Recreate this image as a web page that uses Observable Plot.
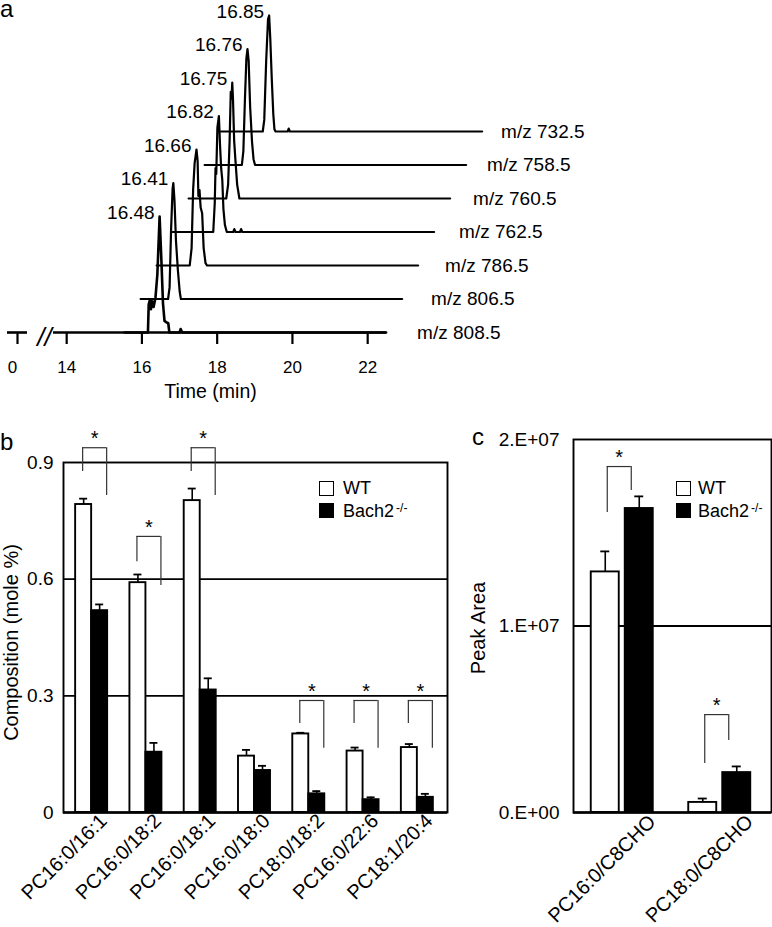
<!DOCTYPE html>
<html>
<head>
<meta charset="utf-8">
<script src="https://cdn.jsdelivr.net/npm/d3@7"></script>
<script src="https://cdn.jsdelivr.net/npm/@observablehq/plot@0.6"></script>
<style>
  body { margin: 0; background: #fff; }
  #fig { position: relative; width: 772px; height: 927px; overflow: hidden; background: #fff;
         font-family: "Liberation Sans", Arial, Helvetica, sans-serif; color: #000; }
  #fig svg { position: absolute; left: 0; top: 0; }
  .panel-letter { position: absolute; font-size: 24px; line-height: 24px; }
  .leg { position: absolute; font-size: 18px; line-height: 18px; white-space: nowrap; }
  .leg sup { font-size: 12px; position: relative; top: -3px; margin-left: 2px; vertical-align: top; }
  .box { position: absolute; width: 13px; height: 13px; border: 1.5px solid #000; }
</style>
</head>
<body>
<div id="fig"></div>
<script>
// ---------------- Panel a : chromatograms (time in min, relative intensity) ----------------
const mzLabels   = ["m/z 808.5", "m/z 806.5", "m/z 786.5", "m/z 762.5", "m/z 760.5", "m/z 758.5", "m/z 732.5"];
const peakLabels = ["16.48", "16.41", "16.66", "16.82", "16.75", "16.76", "16.85"];
const timeTicks  = [14, 16, 18, 20, 22];
const zeroTick   = [0];

const trace808 = [[15.54,0],[16.16,0],[16.18,0.24],[16.21,0.28],[16.24,0.2],[16.27,0.27],[16.31,0.22],[16.36,0.3],[16.41,0.5],[16.47,1.0],[16.52,0.6],[16.56,0.25],[16.6,0.1],[16.64,0.09],[16.7,0.08],[16.73,0],[17.0,0],[17.03,0.03],[17.07,0],[22.49,0]];
const trace806 = [[15.54,0],[16.27,0],[16.31,0.1],[16.35,0.6],[16.39,0.95],[16.41,1.0],[16.44,0.85],[16.48,0.5],[16.53,0.25],[16.58,0.06],[16.61,0],[22.49,0]];
const trace786 = [[15.54,0],[16.42,0],[16.47,0.15],[16.51,0.65],[16.55,0.88],[16.6,1.0],[16.63,0.9],[16.65,0.6],[16.68,0.65],[16.71,0.5],[16.75,0.45],[16.79,0.15],[16.84,0.02],[16.88,0],[22.49,0]];
const trace762 = [[15.54,0],[16.62,0],[16.66,0.25],[16.68,0.55],[16.7,0.5],[16.73,0.9],[16.77,1.0],[16.8,0.75],[16.83,0.55],[16.86,0.45],[16.89,0.2],[16.93,0.06],[16.98,0],[17.15,0],[17.18,0.025],[17.21,0],[17.33,0],[17.36,0.025],[17.39,0],[22.49,0]];
const trace760 = [[15.54,0],[16.54,0],[16.59,0.12],[16.63,0.5],[16.66,0.92],[16.68,0.86],[16.7,1.0],[16.72,0.85],[16.75,0.5],[16.78,0.35],[16.83,0.12],[16.89,0],[22.49,0]];
const trace758 = [[15.54,0],[16.53,0],[16.57,0.12],[16.61,0.55],[16.65,0.92],[16.68,1.0],[16.71,0.9],[16.75,0.5],[16.8,0.2],[16.84,0.05],[16.88,0],[22.49,0]];
const trace732 = [[15.54,0],[16.66,0],[16.7,0.1],[16.75,0.6],[16.8,0.97],[16.83,1.0],[16.86,0.8],[16.9,0.45],[16.94,0.15],[16.97,0.02],[17.0,0],[17.32,0],[17.35,0.025],[17.38,0],[22.49,0]];

// ---------------- Panel b : composition (mole %) ----------------
const lipidsB  = ["PC16:0/16:1", "PC16:0/18:2", "PC16:0/18:1", "PC16:0/18:0", "PC18:0/18:2", "PC16:0/22:6", "PC18:1/20:4"];
const wtB      = [0.792, 0.591, 0.802, 0.145, 0.202, 0.158, 0.167];
const wtSemB   = [0.015, 0.021, 0.031, 0.016, 0.003, 0.009, 0.009];
const koB      = [0.519, 0.155, 0.315, 0.108, 0.048, 0.033, 0.039];
const koSemB   = [0.016, 0.024, 0.030, 0.012, 0.007, 0.006, 0.009];
const sigB     = ["PC16:0/16:1", "PC16:0/18:2", "PC16:0/18:1", "PC18:0/18:2", "PC16:0/22:6", "PC18:1/20:4"];
const sigTopB  = [0.938, 0.710, 0.938, 0.288, 0.288, 0.288];
const sigWtB   = [0.877, 0.645, 0.877, 0.229, 0.229, 0.229];
const sigKoB   = [0.815, 0.584, 0.815, 0.165, 0.165, 0.165];
const yTicksB  = [0, 0.3, 0.6, 0.9];
const yLabelsB = ["0", "0.3", "0.6", "0.9"];

// ---------------- Panel c : peak area ----------------
const lipidsC  = ["PC16:0/C8CHO", "PC18:0/C8CHO"];
const wtC      = [1.29e7, 0.054e7];
const wtSemC   = [0.11e7, 0.021e7];
const koC      = [1.63e7, 0.214e7];
const koSemC   = [0.065e7, 0.033e7];
const sigC     = ["PC16:0/C8CHO", "PC18:0/C8CHO"];
const sigTopC  = [1.855e7, 0.525e7];
const sigWtC   = [1.609e7, 0.263e7];
const sigKoC   = [1.727e7, 0.386e7];
const yTicksC  = [0, 1e7, 2e7];
const yLabelsC = ["0.E+00", "1.E+07", "2.E+07"];

const groupNames = ["WT", "Bach2"];

// ------------------------------------------------------------------
const fig = document.getElementById("fig");
const FONT = '"Liberation Sans", Arial, Helvetica, sans-serif';
const svgStyle = {background: "transparent", fontFamily: FONT, color: "black", overflow: "visible"};

// ---- panel a ----
(function () {
  const traces = [trace808, trace806, trace786, trace762, trace760, trace758, trace732];
  const stepX = 16, stepY = 33.5, labelStepX = 14;
  const marks = [
    Plot.ruleY([0], {strokeWidth: 2.6}),
    Plot.ruleY(zeroTick, {x1: d => d - 1, x2: d => d + 1, y: () => 0, strokeWidth: 2.6}),
    Plot.axisX({ticks: timeTicks, tickSize: 12, tickPadding: 16, fontSize: 17, strokeWidth: 2.2, label: null}),
    Plot.axisX({ticks: zeroTick, tickSize: 12, text: null, strokeWidth: 2.2, label: null}),
    Plot.axisX({ticks: zeroTick, tickSize: 0, tickPadding: 28, fontSize: 17, dx: -5, label: null}),
    Plot.text(["//"], {text: d => d, frameAnchor: "bottom-left", textAnchor: "middle", lineAnchor: "middle",
      dx: -9, dy: 5, fontSize: 26, fontStyle: "italic", letterSpacing: 1}),
    Plot.text(["Time (min)"], {text: d => d, frameAnchor: "bottom", lineAnchor: "middle", dx: -9.5, dy: 59, fontSize: 19.5})
  ];
  traces.forEach((tr, k) => {
    const rows = tr.map(([t, v]) => ({t, v}));
    marks.push(Plot.line(rows, {x: "t", y: "v", dx: stepX * k, dy: -stepY * k,
      strokeWidth: k === 0 ? 2.6 : 2.2, strokeLinejoin: "round"}));
    marks.push(Plot.text(rows, Plot.selectMaxY({x: "t", y: "v", text: () => peakLabels[k],
      dx: stepX * k - 5, dy: -stepY * k - 4, textAnchor: "end", fontSize: 19})));
    marks.push(Plot.text(rows, Plot.selectLast({x: "t", y: "v", text: () => mzLabels[k],
      dx: labelStepX * k + 31, dy: -stepY * k, textAnchor: "start", fontSize: 19})));
  });
  const p = Plot.plot({
    width: 772, height: 400,
    marginLeft: 53, marginRight: 386, marginTop: 10, marginBottom: 68,
    style: svgStyle,
    x: {type: "linear", domain: [-1, 1, 13.65, 22.5], range: [7, 27, 53, 386]},
    y: {domain: [0, 1], range: [332, 216], axis: null},
    marks
  });
  fig.appendChild(p);
})();

// ---- grouped bar panels (b, c) ----
function groupedPanel(o) {
  const rows = o.cats.map((c, i) => ({c, wt: o.wt[i], wtSem: o.wtSem[i], ko: o.ko[i], koSem: o.koSem[i]}));
  const sig = o.sigCats.map((c, i) => ({c, top: o.sigTop[i], wtEnd: o.sigWt[i], koEnd: o.sigKo[i]}));
  const bw = (o.xRange[1] - o.xRange[0]) / o.cats.length;
  const h = bw / 2;
  const wtCenter = -(o.gap / 2 + o.barW / 2), koCenter = o.gap / 2 + o.barW / 2;
  const lab = new Map(o.yTicks.map((v, i) => [v, o.yLabels[i]]));
  const sw = 1.9;
  return Plot.plot({
    width: 772, height: 927,
    marginLeft: o.frame[0], marginRight: 772 - o.frame[1], marginTop: o.frame[2], marginBottom: 927 - o.frame[3],
    style: svgStyle,
    x: {type: "band", domain: o.cats, range: o.xRange, padding: 0, round: false},
    y: {domain: [o.yTicks[0], o.yTicks[o.yTicks.length - 1]]},
    marks: [
      Plot.ruleY(o.yTicks.slice(1, -1), {strokeWidth: sw}),
      Plot.barY(rows, {x: "c", y: "wt", fill: "white", stroke: "black", strokeWidth: sw,
        insetLeft: h - o.gap / 2 - o.barW, insetRight: h + o.gap / 2}),
      Plot.barY(rows, {x: "c", y: "ko", fill: "black", stroke: "black", strokeWidth: sw,
        insetLeft: h + o.gap / 2, insetRight: h - o.gap / 2 - o.barW}),
      Plot.ruleX(rows, {x: "c", y1: "wt", y2: d => d.wt + d.wtSem, dx: wtCenter, strokeWidth: 1.6}),
      Plot.tickY(rows, {x: "c", y: d => d.wt + d.wtSem, dx: wtCenter, insetLeft: h - o.capW / 2, insetRight: h - o.capW / 2, strokeWidth: 1.8}),
      Plot.ruleX(rows, {x: "c", y1: "ko", y2: d => d.ko + d.koSem, dx: koCenter, strokeWidth: 1.6}),
      Plot.tickY(rows, {x: "c", y: d => d.ko + d.koSem, dx: koCenter, insetLeft: h - o.capW / 2, insetRight: h - o.capW / 2, strokeWidth: 1.8}),
      Plot.frame({strokeWidth: sw}),
      Plot.ruleY([o.yTicks[0]], {strokeWidth: 2.6}),
      // significance brackets
      Plot.ruleX(sig, {x: "c", y1: "wtEnd", y2: "top", dx: o.brL, stroke: "#333", strokeWidth: 1.2}),
      Plot.ruleX(sig, {x: "c", y1: "koEnd", y2: "top", dx: o.brR, stroke: "#333", strokeWidth: 1.2}),
      Plot.tickY(sig, {x: "c", y: "top", insetLeft: h + o.brL, insetRight: h - o.brR, stroke: "#333", strokeWidth: 1.2}),
      Plot.text(sig, {x: "c", y: "top", text: () => "*", dx: (o.brL + o.brR) / 2, dy: o.starDy, fontSize: 20, fill: "black"}),
      // axes
      Plot.axisY({ticks: o.yTicks, tickFormat: d => lab.get(d), tickSize: 0, tickPadding: o.tickPad, fontSize: 19, label: null}),
      Plot.axisX({tickRotate: -45, tickSize: 0, tickPadding: o.catPad, dx: o.catDx, fontSize: 20, label: null}),
      Plot.text([o.yTitle], {text: d => d, frameAnchor: "left", textAnchor: "middle", lineAnchor: "middle",
        rotate: -90, dx: o.yTitleDx, dy: o.yTitleDy, fontSize: 20})
    ]
  });
}

fig.appendChild(groupedPanel({
  cats: lipidsB, wt: wtB, wtSem: wtSemB, ko: koB, koSem: koSemB,
  sigCats: sigB, sigTop: sigTopB, sigWt: sigWtB, sigKo: sigKoB,
  yTicks: yTicksB, yLabels: yLabelsB,
  frame: [63, 447, 462, 812], xRange: [64, 444],
  barW: 16, gap: 0, capW: 8, brL: -9, brR: 15, starDy: -9,
  tickPad: 10, catPad: 5, catDx: 12,
  yTitle: "Composition (mole %)", yTitleDx: -52, yTitleDy: 5
}));

fig.appendChild(groupedPanel({
  cats: lipidsC, wt: wtC, wtSem: wtSemC, ko: koC, koSem: koSemC,
  sigCats: sigC, sigTop: sigTopC, sigWt: sigWtC, sigKo: sigKoC,
  yTicks: yTicksC, yLabels: yLabelsC,
  frame: [573, 771, 439, 812], xRange: [573, 768],
  barW: 28, gap: 6, capW: 9, brL: -15, brR: 9, starDy: -9,
  tickPad: 14, catPad: 6, catDx: 30,
  yTitle: "Peak Area", yTitleDx: -95, yTitleDy: 2
}));

// ---- panel letters & legends (HTML text) ----
function addDiv(cls, left, top, html) {
  const d = document.createElement("div");
  d.className = cls; d.style.left = left + "px"; d.style.top = top + "px"; d.innerHTML = html;
  fig.appendChild(d); return d;
}
const letterA = addDiv("panel-letter", 0, 0, "a");
letterA.style.lineHeight = "17px";
addDiv("panel-letter", 0, 430, "b");
addDiv("panel-letter", 472, 425, "c");

function legend(boxLeft, textLeft) {
  const b1 = addDiv("box", boxLeft, 481, ""); b1.style.background = "#fff";
  const b2 = addDiv("box", boxLeft, 503, ""); b2.style.background = "#000";
  addDiv("leg", textLeft, 479, groupNames[0]);
  addDiv("leg", textLeft, 502, groupNames[1] + "<sup>-/-</sup>");
}
legend(319, 343);
legend(676, 698);
</script>
</body>
</html>
